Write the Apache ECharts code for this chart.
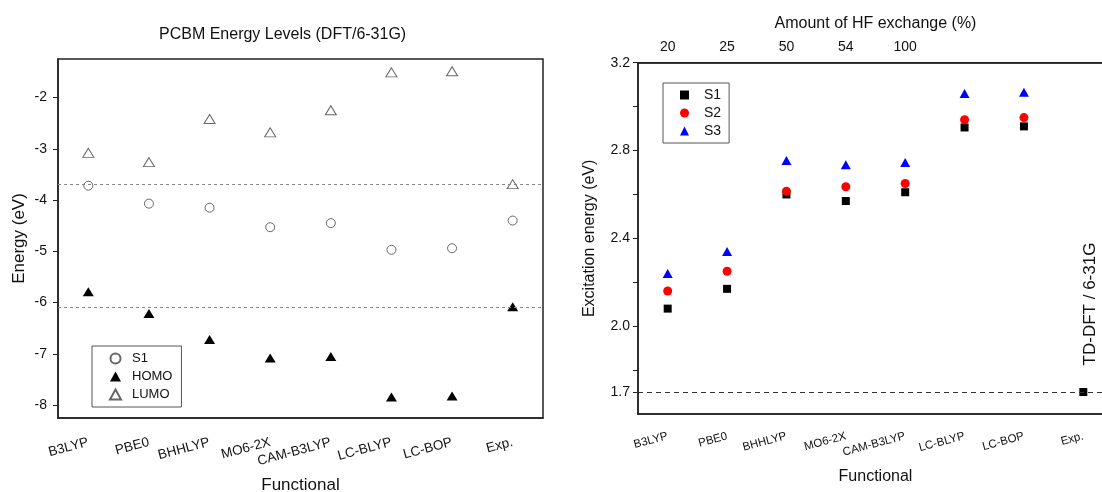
<!DOCTYPE html>
<html>
<head>
<meta charset="utf-8">
<script src="https://cdn.jsdelivr.net/npm/echarts@6/dist/echarts.min.js"></script>
<style>
  html, body { margin: 0; padding: 0; background: #fff; }
  #chart { width: 1102px; height: 492px; }
</style>
</head>
<body>
<div id="chart"></div>
<script>
// categories
var functionals = ["B3LYP", "PBE0", "BHHLYP", "MO6-2X", "CAM-B3LYP", "LC-BLYP", "LC-BOP", "Exp."];
var hfExchange = ["20", "25", "50", "54", "100", "", "", ""];

// left panel: PCBM energy levels (eV)
var s1Level = [-3.72, -4.07, -4.15, -4.53, -4.45, -4.97, -4.94, -4.40];
var homoLevel = [-5.79, -6.21, -6.72, -7.08, -7.05, -7.84, -7.82, -6.08];
var lumoLevel = [-3.08, -3.26, -2.42, -2.68, -2.25, -1.51, -1.49, -3.69];
var expLevels = [-3.7, -6.1];
var energyTicks = [-8, -7, -6, -5, -4, -3, -2];

// right panel: excitation energies (eV)
var s1Exc = [2.08, 2.17, 2.6, 2.57, 2.61, 2.905, 2.91, 1.7];
var s2Exc = [2.16, 2.25, 2.615, 2.635, 2.65, 2.94, 2.95, null];
var s3Exc = [2.24, 2.34, 2.755, 2.735, 2.745, 3.06, 3.065, null];
var expExc = 1.7;
var excLabels = [1.7, 2.0, 2.4, 2.8, 3.2];
var excTicks = [1.7, 1.8, 2.0, 2.2, 2.4, 2.6, 2.8, 3.0, 3.2];

var font = "Liberation Sans, Arial, sans-serif";
var axisColor = "#222";

var chart = echarts.init(document.getElementById("chart"));
var option = {
  animation: false,
  textStyle: { fontFamily: font, color: "#111" },
  title: {
    text: "PCBM Energy Levels (DFT/6-31G)",
    left: 159,
    top: 27,
    padding: 0,
    textStyle: { fontFamily: font, fontSize: 16, fontWeight: "normal", color: "#111" },
  },
  legend: [
    {
      orient: "vertical",
      left: 92,
      top: 346,
      data: ["S1", "HOMO", "LUMO"],
      borderColor: "#555",
      borderWidth: 1,
      padding: [6, 9, 6, 17],
      itemGap: 5,
      itemWidth: 11,
      itemHeight: 10,
      selectedMode: false,
      textStyle: { fontFamily: font, fontSize: 13, color: "#111", padding: [0, 0, 0, 6] },
    },
    {
      orient: "vertical",
      left: 663,
      top: 83,
      data: ["xS1", "xS2", "xS3"],
      formatter: function (n) {
        return n.slice(1);
      },
      borderColor: "#555",
      borderWidth: 1,
      padding: [5, 8, 5, 17],
      itemGap: 4,
      itemWidth: 9,
      itemHeight: 9,
      selectedMode: false,
      textStyle: { fontFamily: font, fontSize: 14, color: "#111", padding: [0, 0, 0, 10] },
    },
  ],
  grid: [
    { left: 58, top: 59, width: 485, height: 359, show: true, borderColor: axisColor, borderWidth: 1.5, outerBoundsMode: "none" },
    { left: 638, top: 62.7, width: 475, height: 351.3, show: true, borderColor: axisColor, borderWidth: 1.5, outerBoundsMode: "none" },
  ],
  xAxis: [
    {
      gridIndex: 0,
      type: "category",
      data: functionals,
      name: "Functional",
      nameLocation: "middle",
      nameGap: 59,
      nameTextStyle: { fontSize: 17, color: "#111" },
      axisLine: { lineStyle: { color: axisColor, width: 1.5 } },
      axisTick: { alignWithLabel: true, length: 5, lineStyle: { color: axisColor } },
      axisLabel: { interval: 0, rotate: 15, margin: 24, fontSize: 13.5, color: "#111" },
    },
    {
      gridIndex: 1,
      type: "category",
      data: functionals,
      name: "Functional",
      nameLocation: "middle",
      nameGap: 55,
      nameTextStyle: { fontSize: 16, color: "#111" },
      axisLine: { lineStyle: { color: axisColor, width: 1.5 } },
      axisTick: { alignWithLabel: true, length: 5, lineStyle: { color: axisColor } },
      axisLabel: { interval: 0, rotate: 15, margin: 22, fontSize: 11.5, color: "#111" },
    },
    {
      gridIndex: 1,
      type: "category",
      position: "top",
      data: hfExchange,
      name: "Amount of HF exchange (%)",
      nameLocation: "middle",
      nameGap: 31,
      nameTextStyle: { fontSize: 16, color: "#111" },
      axisLine: { lineStyle: { color: axisColor, width: 1.5 } },
      axisTick: { alignWithLabel: true, length: 5, lineStyle: { color: axisColor } },
      axisLabel: { interval: 0, margin: 9, fontSize: 14, color: "#111" },
    },
  ],
  yAxis: [
    {
      gridIndex: 0,
      type: "value",
      min: -8.25,
      max: -1.25,
      name: "Energy (eV)",
      nameLocation: "middle",
      nameGap: 30,
      nameTextStyle: { fontSize: 17, color: "#111" },
      splitLine: { show: false },
      axisLine: { show: true, lineStyle: { color: axisColor, width: 1.5 } },
      axisTick: { show: true, length: 5, customValues: energyTicks, lineStyle: { color: axisColor } },
      axisLabel: { margin: 11, fontSize: 14, color: "#111", customValues: energyTicks },
    },
    {
      gridIndex: 1,
      type: "value",
      min: 1.6,
      max: 3.2,
      name: "Excitation energy (eV)",
      nameLocation: "middle",
      nameGap: 40,
      nameTextStyle: { fontSize: 16, color: "#111" },
      splitLine: { show: false },
      axisLine: { show: true, lineStyle: { color: axisColor, width: 1.5 } },
      axisTick: { show: true, length: 5, customValues: excTicks, lineStyle: { color: axisColor } },
      axisLabel: {
        margin: 8,
        fontSize: 14,
        color: "#111",
        customValues: excLabels,
        formatter: function (v) {
          return v.toFixed(1);
        },
      },
    },
  ],
  graphic: [
    {
      type: "text",
      x: 1090,
      y: 304,
      rotation: Math.PI / 2,
      style: {
        text: "TD-DFT / 6-31G",
        fontFamily: font,
        fontSize: 17,
        fill: "#111",
        align: "center",
        verticalAlign: "middle",
      },
    },
  ],
  series: [
    {
      name: "S1",
      type: "scatter",
      xAxisIndex: 0,
      yAxisIndex: 0,
      symbol: "circle",
      symbolSize: 9,
      itemStyle: { color: "#fff", borderColor: "#666", borderWidth: 1, opacity: 1 },
      data: s1Level,
      markLine: {
        silent: true,
        symbol: "none",
        label: { show: false },
        lineStyle: { type: [3, 3], color: "#888", width: 1 },
        data: expLevels.map(function (v) {
          return { yAxis: v };
        }),
      },
    },
    {
      name: "HOMO",
      type: "scatter",
      xAxisIndex: 0,
      yAxisIndex: 0,
      symbol: "triangle",
      symbolSize: [11, 9],
      itemStyle: { color: "#000", opacity: 1 },
      data: homoLevel,
    },
    {
      name: "LUMO",
      type: "scatter",
      xAxisIndex: 0,
      yAxisIndex: 0,
      symbol: "triangle",
      symbolSize: [11, 9],
      itemStyle: { color: "#fff", borderColor: "#666", borderWidth: 1, opacity: 1 },
      data: lumoLevel,
    },
    {
      name: "xS1",
      type: "scatter",
      xAxisIndex: 1,
      yAxisIndex: 1,
      symbol: "rect",
      symbolSize: 8,
      itemStyle: { color: "#000", opacity: 1 },
      data: s1Exc,
      markLine: {
        silent: true,
        symbol: "none",
        label: { show: false },
        lineStyle: { type: [5, 4], color: "#333", width: 1 },
        data: [{ yAxis: expExc }],
      },
    },
    {
      name: "xS2",
      type: "scatter",
      xAxisIndex: 1,
      yAxisIndex: 1,
      symbol: "circle",
      symbolSize: 9,
      itemStyle: { color: "#ff0000", opacity: 1 },
      data: s2Exc,
    },
    {
      name: "xS3",
      type: "scatter",
      xAxisIndex: 1,
      yAxisIndex: 1,
      symbol: "triangle",
      symbolSize: [10, 9],
      itemStyle: { color: "#0000ff", opacity: 1 },
      data: s3Exc,
    },
  ],
};
chart.setOption(option);
</script>
</body>
</html>
